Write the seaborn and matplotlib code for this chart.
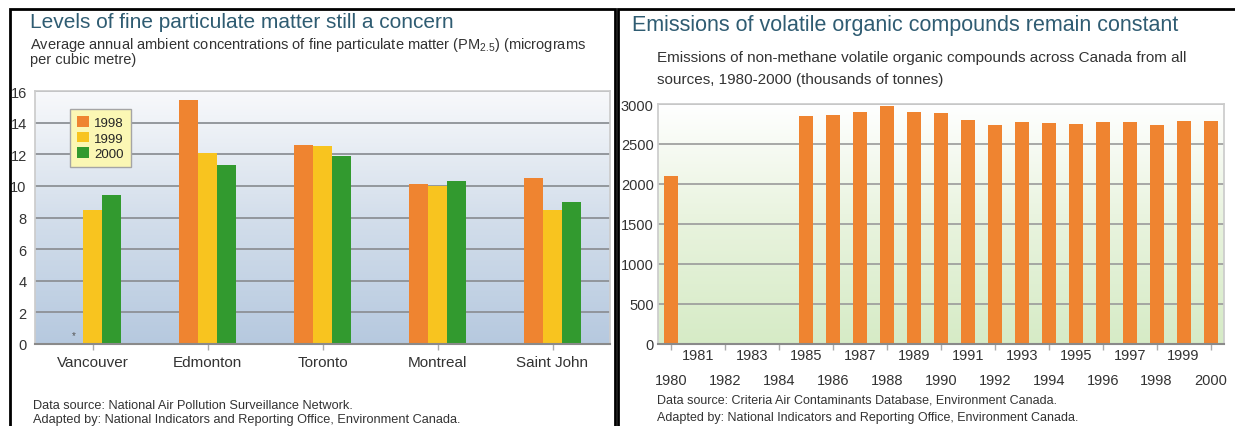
import numpy as np
import pandas as pd
import seaborn as sns
import matplotlib.pyplot as plt
from matplotlib.patches import Rectangle
from matplotlib.colors import LinearSegmentedColormap

# PM2.5 data (left chart)
pm_cities = ['Vancouver', 'Edmonton', 'Toronto', 'Montreal', 'Saint John']
pm_years = ['1998', '1999', '2000']
pm_1998 = [np.nan, 15.4, 12.6, 10.1, 10.5]
pm_1999 = [8.5, 12.1, 12.5, 10.0, 8.5]
pm_2000 = [9.4, 11.3, 11.9, 10.3, 9.0]
pm_colors = ['#ef8430', '#f8c41f', '#329a2f']

# VOC emissions (right chart), thousands of tonnes
voc_years = [str(y) for y in range(1980, 2001)]
voc_values = [2100, np.nan, np.nan, np.nan, np.nan, 2850, 2865, 2905, 2970, 2905,
              2885, 2805, 2740, 2770, 2765, 2755, 2770, 2775, 2740, 2790, 2790]

pm = pd.DataFrame({
    'city': pm_cities * 3,
    'year': [y for y in pm_years for _ in pm_cities],
    'value': pm_1998 + pm_1999 + pm_2000,
})
voc = pd.DataFrame({'year': voc_years, 'value': voc_values})

sns.set_theme(style='white')
plt.rcParams['font.family'] = ['Liberation Sans', 'DejaVu Sans']

W, H = 1235, 427
fig = plt.figure(figsize=(W / 100, H / 100), dpi=100)
fig.patch.set_facecolor('white')


def box(l, t, r, b):
    return [l / W, 1 - b / H, (r - l) / W, (b - t) / H]


ax1 = fig.add_axes(box(35, 92, 610, 345))
ax2 = fig.add_axes(box(658, 105, 1224, 345))

# ---- left chart
sns.barplot(data=pm, x='city', y='value', hue='year', order=pm_cities,
            hue_order=pm_years, palette=pm_colors, width=0.5, saturation=1,
            linewidth=0, errorbar=None, ax=ax1)
blue = LinearSegmentedColormap.from_list('b', ['#b6c9df', '#d3deeb', '#f8f9fb'])
grad = np.linspace(0, 1, 256).reshape(-1, 1)
ax1.imshow(grad, extent=[0, 1, 0, 1], transform=ax1.transAxes, aspect='auto',
           cmap=blue, origin='lower', zorder=0)
ax1.set_xlim(-0.5, 4.5)
ax1.set_ylim(0, 16)
ax1.set_yticks(range(0, 17, 2))
ax1.yaxis.grid(True, color='#8d9196', lw=1.3)
ax1.set_axisbelow(True)
ax1.set_xlabel('')
ax1.set_ylabel('')
ax1.tick_params(axis='y', length=0, pad=6, labelsize=10.5, labelcolor='#333333')
ax1.tick_params(axis='x', length=4, width=1, color='#aaaaaa', pad=4,
                labelsize=11, labelcolor='#333333', bottom=True)
for s in ['top', 'right', 'left']:
    ax1.spines[s].set_color('#cccccc')
ax1.spines['bottom'].set_color('#8a8a8a')
ax1.spines['bottom'].set_linewidth(1.5)
ax1.text(-1 / 6, 0.25, '*', ha='center', va='bottom', fontsize=7, color='#555555')

handles, labels = ax1.get_legend_handles_labels()
ax1.legend(handles, labels, loc='upper left',
           bbox_to_anchor=((63 - 35) / 575, (345 - 103) / 253),
           frameon=True, fancybox=False, framealpha=1, facecolor='#fbf7b4',
           edgecolor='#a5a5a5', fontsize=9.5, handlelength=0.9, handleheight=0.9,
           handletextpad=0.4, borderpad=0.55, labelspacing=0.2)

# ---- right chart
sns.barplot(data=voc, x='year', y='value', order=voc_years, color='#ef8430',
            width=0.52, saturation=1, linewidth=0, errorbar=None, ax=ax2)
green = LinearSegmentedColormap.from_list('g', ['#d6ebc6', '#e8f3dd', '#ffffff'])
ax2.imshow(grad, extent=[0, 1, 0, 1], transform=ax2.transAxes, aspect='auto',
           cmap=green, origin='lower', zorder=0)
ax2.set_xlim(-0.5, 20.5)
ax2.set_ylim(0, 3000)
ax2.set_yticks(range(0, 3001, 500))
ax2.yaxis.grid(True, color='#9a9a9a', lw=1.2)
ax2.set_axisbelow(True)
ax2.set_xlabel('')
ax2.set_ylabel('')
ax2.set_xticks(range(0, 21, 2), voc_years[0::2])
ax2.set_xticks(range(1, 21, 2), voc_years[1::2], minor=True)
ax2.tick_params(axis='x', which='major', length=4, width=1, color='#aaaaaa',
                pad=17, labelsize=10.5, labelcolor='#333333', bottom=True)
ax2.tick_params(axis='x', which='minor', length=0, pad=3, labelsize=10.5,
                labelcolor='#333333', bottom=True)
ax2.tick_params(axis='y', length=0, pad=3, labelsize=10.5, labelcolor='#333333')
for s in ['top', 'right', 'left']:
    ax2.spines[s].set_color('#cccccc')
ax2.spines['bottom'].set_color('#8a8a8a')
ax2.spines['bottom'].set_linewidth(1.5)

# ---- texts
title_c = '#2f5c72'
txt_c = '#333333'
fig.text(30 / W, 1 - 23 / H, 'Levels of fine particulate matter still a concern',
         fontsize=15, color=title_c, va='center')
fig.text(30 / W, 1 - 45 / H,
         r'Average annual ambient concentrations of fine particulate matter (PM$_{\mathregular{2.5}}$) (micrograms',
         fontsize=10.5, color=txt_c, va='center')
fig.text(30 / W, 1 - 60 / H, 'per cubic metre)', fontsize=10.5, color=txt_c,
         va='center')
fig.text(33 / W, 1 - 406 / H, 'Data source: National Air Pollution Surveillance Network.',
         fontsize=9.2, color=txt_c, va='center')
fig.text(33 / W, 1 - 420 / H, 'Adapted by: National Indicators and Reporting Office, Environment Canada.',
         fontsize=9.2, color=txt_c, va='center')

fig.text(632 / W, 1 - 25 / H, 'Emissions of volatile organic compounds remain constant',
         fontsize=15.5, color=title_c, va='center')
fig.text(657 / W, 1 - 58 / H,
         'Emissions of non-methane volatile organic compounds across Canada from all',
         fontsize=11, color=txt_c, va='center')
fig.text(657 / W, 1 - 80 / H, 'sources, 1980-2000 (thousands of tonnes)',
         fontsize=11, color=txt_c, va='center')
fig.text(657 / W, 1 - 401 / H, 'Data source: Criteria Air Contaminants Database, Environment Canada.',
         fontsize=9, color=txt_c, va='center')
fig.text(657 / W, 1 - 418 / H, 'Adapted by: National Indicators and Reporting Office, Environment Canada.',
         fontsize=9, color=txt_c, va='center')

# ---- panel frames
fig.add_artist(Rectangle((10 / W, -0.05), (615 - 10) / W, 1.05 - 10 / H, fill=False,
                         ec='black', lw=2, transform=fig.transFigure))
fig.add_artist(Rectangle((618 / W, -0.05), 0.6, 1.05 - 10 / H, fill=False,
                         ec='black', lw=2, transform=fig.transFigure))

fig.savefig('out.png', dpi=100)
